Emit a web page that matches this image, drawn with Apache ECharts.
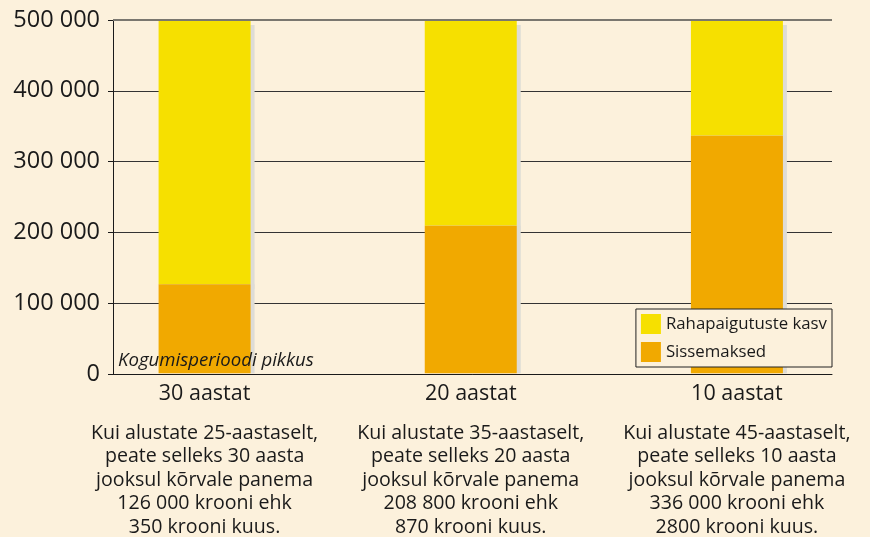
<!DOCTYPE html>
<html>
<head>
<meta charset="utf-8">
<script src="https://cdn.jsdelivr.net/npm/echarts@6/dist/echarts.min.js"></script>
<style>
  html, body { margin: 0; padding: 0; background: #fcf1dc; }
  #chart { width: 870px; height: 537px; }
</style>
</head>
<body>
<div id="chart"></div>
<script>
const categories = ["30 aastat", "20 aastat", "10 aastat"];
const notes = [
  ["Kui alustate 25-aastaselt,", "peate selleks 30 aasta", "jooksul kõrvale panema", "126 000 krooni ehk", "350 krooni kuus."],
  ["Kui alustate 35-aastaselt,", "peate selleks 20 aasta", "jooksul kõrvale panema", "208 800 krooni ehk", "870 krooni kuus."],
  ["Kui alustate 45-aastaselt,", "peate selleks 10 aasta", "jooksul kõrvale panema", "336 000 krooni ehk", "2800 krooni kuus."]
];
const deposits = [126000, 208800, 336000];
const growth = [374000, 291200, 164000];

const FONT = "Open Sans";
const INK = "#1a1a1a";
const chart = echarts.init(document.getElementById("chart"));

function fmt(v) {
  return String(v).replace(/\B(?=(\d{3})+(?!\d))/g, " ");
}

const shadow = { shadowColor: "#dedcd6", shadowBlur: 0, shadowOffsetX: 4 };

chart.setOption({
  backgroundColor: "#fcf1dc",
  animation: false,
  textStyle: { fontFamily: FONT },
  title: {
    text: "Kogumisperioodi pikkus",
    left: 118,
    top: 351,
    padding: 0,
    z: 10,
    textStyle: { fontFamily: FONT, fontStyle: "italic", fontWeight: "normal", fontSize: 18.6, color: INK }
  },
  legend: {
    orient: "vertical",
    right: 38,
    top: 309,
    padding: [5, 5, 5, 5],
    itemWidth: 20,
    itemHeight: 20,
    itemGap: 8,
    icon: "rect",
    borderColor: "#222",
    borderWidth: 1,
    backgroundColor: "#fcf1dc",
    textStyle: { fontFamily: FONT, fontSize: 16.8, color: INK },
    data: ["Rahapaigutuste kasv", "Sissemaksed"]
  },
  grid: [
    { left: 113, right: 38, top: 20, bottom: 163 },
    { left: 71.5, right: -7, top: 20, bottom: 163 }
  ],
  xAxis: [
    {
      gridIndex: 0,
      type: "value",
      min: 0,
      max: 1,
      splitLine: { show: false },
      axisTick: { show: false },
      axisLabel: { show: false },
      axisLine: { show: true, onZero: false, lineStyle: { color: INK, width: 1 } }
    },
    {
      gridIndex: 1,
      type: "category",
      data: categories,
      axisLine: { show: false },
      axisTick: { show: false },
      axisLabel: {
        margin: 8,
        interval: 0,
        formatter: function (v, i) {
          return "{c|" + v + "}\n{s| }\n{n|" + notes[i].join("}\n{n|") + "}";
        },
        rich: {
          c: { fontFamily: FONT, fontSize: 21.5, color: INK, lineHeight: 26 },
          s: { fontSize: 4, lineHeight: 14 },
          n: { fontFamily: FONT, fontSize: 19.6, color: INK, lineHeight: 23.5 }
        }
      }
    }
  ],
  yAxis: [
    {
      gridIndex: 0,
      type: "value",
      min: 0,
      max: 500000,
      interval: 100000,
      axisLine: { show: true, onZero: false, lineStyle: { color: INK, width: 1 } },
      axisTick: { show: true, length: 5, lineStyle: { color: INK } },
      splitLine: { show: true, lineStyle: { color: "#333", width: 1 } },
      axisLabel: {
        margin: 13,
        fontFamily: FONT,
        fontSize: 23.5,
        color: INK,
        formatter: fmt
      }
    },
    {
      gridIndex: 1,
      type: "value",
      min: 0,
      max: 500000,
      show: false
    }
  ],
  series: [
    {
      name: "Sissemaksed",
      type: "bar",
      stack: "total",
      xAxisIndex: 1,
      yAxisIndex: 1,
      barWidth: 92,
      z: 3,
      itemStyle: Object.assign({ color: "#f1a900" }, shadow, { shadowOffsetY: 0 }),
      data: deposits
    },
    {
      name: "Rahapaigutuste kasv",
      type: "bar",
      stack: "total",
      xAxisIndex: 1,
      yAxisIndex: 1,
      barWidth: 92,
      z: 2,
      itemStyle: Object.assign({ color: "#f6e000" }, shadow, { shadowOffsetY: 5 }),
      data: growth
    },
    {
      type: "line",
      xAxisIndex: 0,
      yAxisIndex: 0,
      silent: true,
      clip: false,
      symbol: "none",
      z: 5,
      lineStyle: { color: "#7a776f", width: 2 },
      data: [[0, 500000], [1, 500000]]
    }
  ]
});
</script>
</body>
</html>
